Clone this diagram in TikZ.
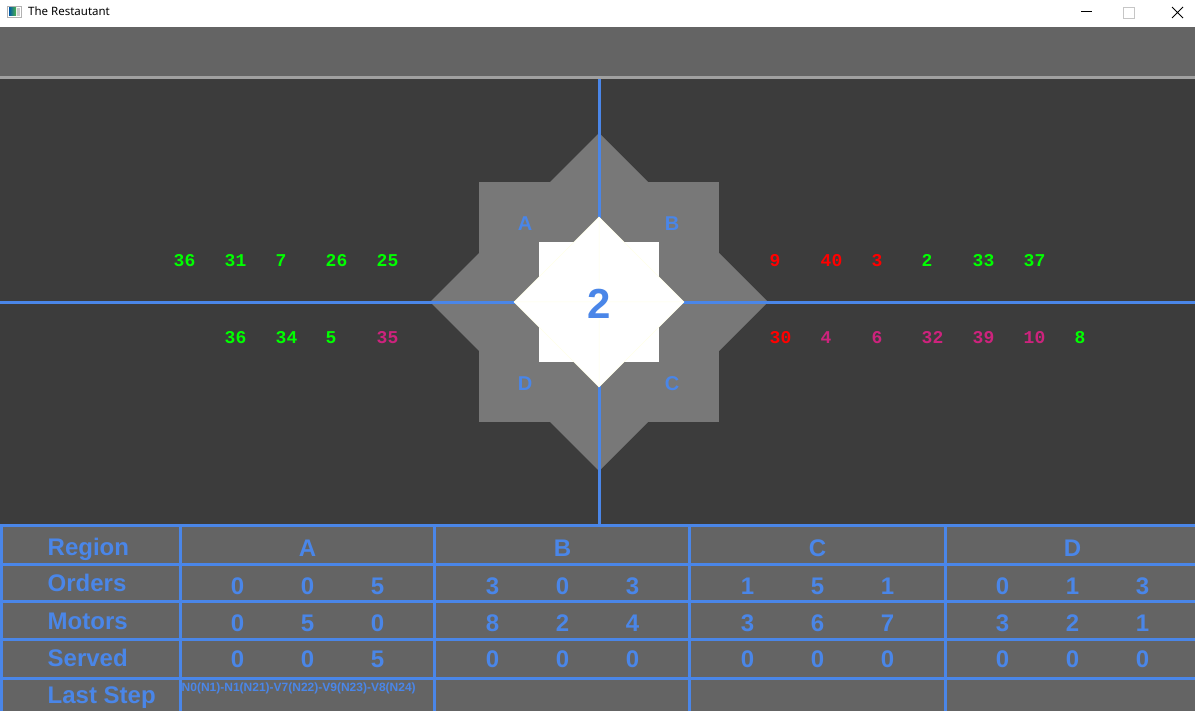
\documentclass[tikz,border=0pt]{standalone}
\usepackage{fontspec}
\setmainfont{Liberation Sans}
\newfontfamily\monofont{Liberation Mono}
\newfontfamily\uifont{Noto Sans}
\definecolor{blu}{RGB}{74,134,232}
\definecolor{toolbar}{RGB}{100,100,100}
\definecolor{sepgrey}{RGB}{160,160,160}
\definecolor{darkbg}{RGB}{60,60,60}
\definecolor{stargrey}{RGB}{120,120,120}
\definecolor{cellgrey}{RGB}{100,100,100}
\definecolor{faint}{RGB}{255,255,232}
\definecolor{numgreen}{RGB}{0,255,0}
\definecolor{numred}{RGB}{255,0,0}
\definecolor{nummag}{RGB}{205,35,125}
\tikzset{
  blueline/.style={draw=blu,line width=3pt},
  hdr/.style={inner sep=0pt,anchor=base west,text=blu,font=\fontsize{24}{28}\selectfont\bfseries},
  cellnum/.style={inner sep=0pt,anchor=base,text=blu,font=\fontsize{24}{28}\selectfont\bfseries},
  starlbl/.style={inner sep=0pt,anchor=base,text=blu,font=\fontsize{20}{24}\selectfont\bfseries},
  qnum/.style={inner sep=0pt,anchor=base west,font=\fontsize{18}{20}\monofont\bfseries},
  g/.style={qnum,text=numgreen},
  r/.style={qnum,text=numred},
  m/.style={qnum,text=nummag}
}
\begin{document}
\begin{tikzpicture}[x=1pt,y=-1pt]
\useasboundingbox (0,0) rectangle (1195,711);
% window frame
\fill[white] (0,0) rectangle (1195,27);
\fill[toolbar] (0,27) rectangle (1195,76);
\fill[sepgrey] (0,76) rectangle (1195,79);
\fill[darkbg] (0,79) rectangle (1195,524);
\fill[cellgrey] (0,524) rectangle (1195,711);
% title bar
\draw[draw=gray!60,fill=white,line width=0.8pt] (7.5,6.5) rectangle (21.5,17.5);
\fill[left color=teal!70!blue,right color=green!40!gray] (9,8) rectangle (16,16);
\fill[gray!40] (17,8) rectangle (20,16);
\node[inner sep=0pt,anchor=base west,font=\fontsize{11.5}{13}\uifont] (title) at (28,16) {The Restautant};
\coordinate (minA) at (1081,12); \coordinate (minB) at (1092,12);
\draw[line width=1pt] (minA) -- (minB);
\draw[draw=gray!45,line width=1pt] (1123,7.5) rectangle (1134,18.5);
\coordinate (xa) at (1172,7); \coordinate (xb) at (1183,18);
\coordinate (xc) at (1183,7); \coordinate (xd) at (1172,18);
\draw[line width=0.9pt] (xa) -- (xb) (xc) -- (xd);
% grey star
\fill[stargrey] (479,182) rectangle (719,422);
\fill[stargrey] (599,133) -- (768,302) -- (599,471) -- (430,302) -- cycle;
% axes
\draw[blueline] (0,302.5) -- (1195,302.5);
\draw[blueline] (599.5,79) -- (599.5,527);
% white star
\fill[white] (539,242) rectangle (659,362);
\fill[white] (599,217) -- (684,302) -- (599,387) -- (514,302) -- cycle;
\draw[faint,line width=0.5pt] (599,217) -- (684,302) -- (599,387) -- (514,302) -- cycle
  (599,217) -- (599,387) (514,302) -- (684,302);
% star labels
\node[starlbl] (lA) at (525,231) {A};
\node[starlbl] (lB) at (672,231) {B};
\node[starlbl] (lD) at (525,391) {D};
\node[starlbl] (lC) at (672,391) {C};
\node[inner sep=0pt,anchor=base,text=blu,font=\fontsize{42}{46}\selectfont\bfseries] (centre) at (599,319) {2};
% queue numbers
\node[g] (l1) at (173.5,266.7) {36};
\node[g] (l2) at (224.5,266.7) {31};
\node[g] (l3) at (275.5,266.7) {7};
\node[g] (l4) at (325.5,266.7) {26};
\node[g] (l5) at (376.5,266.7) {25};
\node[g] (l6) at (224.5,343.3) {36};
\node[g] (l7) at (275.5,343.3) {34};
\node[g] (l8) at (325.5,343.3) {5};
\node[m] (l9) at (376.5,343.3) {35};
\node[r] (r1) at (769.5,266.7) {9};
\node[r] (r2) at (820.5,266.7) {40};
\node[r] (r3) at (871.5,266.7) {3};
\node[g] (r4) at (921.5,266.7) {2};
\node[g] (r5) at (972.5,266.7) {33};
\node[g] (r6) at (1023.5,266.7) {37};
\node[r] (r7) at (769.5,343.3) {30};
\node[m] (r8) at (820.5,343.3) {4};
\node[m] (r9) at (871.5,343.3) {6};
\node[m] (r10) at (921.5,343.3) {32};
\node[m] (r11) at (972.5,343.3) {39};
\node[m] (r12) at (1023.5,343.3) {10};
\node[g] (r13) at (1074.5,343.3) {8};
% table grid
\draw[blueline] (0,525.5) -- (1195,525.5);
\foreach \yy in {564,601.7,639.3,678.3} \draw[blueline] (0,\yy) -- (1195,\yy);
\foreach \xx in {1.3,180,434.5,689.5,945} \draw[blueline] (\xx,525.5) -- (\xx,711);
% row headers
\node[hdr] (hRegion) at (47.5,555) {Region};
\node[hdr] (hOrders) at (47.5,591.5) {Orders};
\node[hdr] (hMotors) at (47.5,629) {Motors};
\node[hdr] (hServed) at (47.5,666) {Served};
\node[hdr] (hLast) at (47.5,703) {Last Step};
% region letters
\node[cellnum] (cA) at (307.5,556) {A};
\node[cellnum] (cB) at (562.5,556) {B};
\node[cellnum] (cC) at (817.5,556) {C};
\node[cellnum] (cD) at (1072.5,556) {D};
% values
\foreach \rw/\by/\vals in {o/594/{0,0,5,3,0,3,1,5,1,0,1,3},m/631.5/{0,5,0,8,2,4,3,6,7,3,2,1},s/667/{0,0,5,0,0,0,0,0,0,0,0,0}}{
  \foreach \v [count=\k] in \vals {
    \pgfmathsetmacro\xx{307.5+255*floor((\k-1)/3)+70*(mod(\k-1,3)-1)}
    \node[cellnum] (v-\rw-\k) at (\xx,\by) {\v};
  }
}
\node[inner sep=0pt,anchor=base west,text=blu,font=\fontsize{12}{14}\selectfont\bfseries] (laststep) at (181.5,691) {N0(N1)-N1(N21)-V7(N22)-V9(N23)-V8(N24)};
\end{tikzpicture}
\end{document}
